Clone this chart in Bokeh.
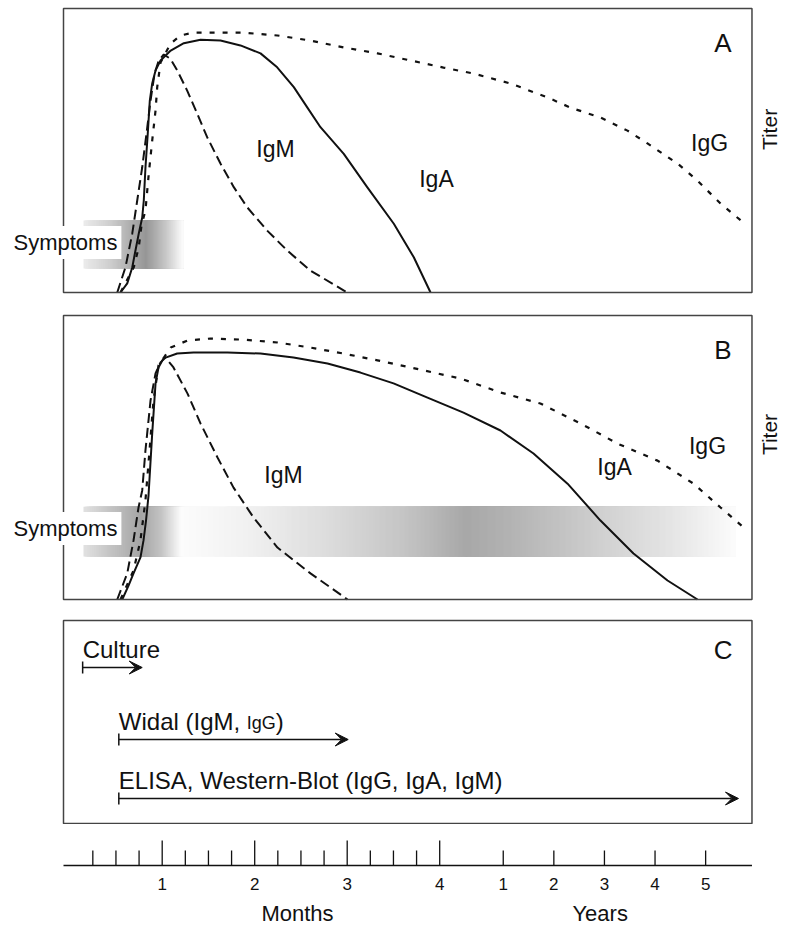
import numpy as np
from bokeh.plotting import figure
from bokeh.models import Range1d, ColumnDataSource, Arrow, VeeHead, TeeHead, BoxAnnotation, Label
from bokeh.layouts import column
from bokeh.core.properties import value
from bokeh.embed import file_html
from bokeh.resources import INLINE

# ---------------------------------------------------------------- data
# Horizontal positions are "axis units": 1 unit = 1 month on the month part of the
# broken time axis (0-4 months); the year part follows to the right.
month_ticks = [1, 2, 3, 4]
month_minor_ticks = [0.25, 0.5, 0.75, 1.25, 1.5, 1.75, 2.25, 2.5, 2.75, 3.25, 3.5, 3.75]
month_labels = ["1", "2", "3", "4"]
year_ticks = [1, 2, 3, 4, 5]
year_labels = ["1", "2", "3", "4", "5"]
axis_titles = ["Months", "Years"]

# Panel A - titer (relative, 0..1)
a_igm_x = [0.514, 0.603, 0.676, 0.730, 0.784, 0.830, 0.874, 0.917, 0.963, 1.017, 1.089, 1.162,
           1.270, 1.378, 1.486, 1.630, 1.774, 1.919, 2.135, 2.351, 2.603, 3.000]
a_igm_y = [0.000, 0.089, 0.207, 0.324, 0.441, 0.559, 0.676, 0.770, 0.817, 0.838, 0.823, 0.782,
           0.711, 0.630, 0.547, 0.454, 0.371, 0.300, 0.218, 0.148, 0.077, 0.000]
a_iga_x = [0.549, 0.622, 0.676, 0.711, 0.747, 0.784, 0.801, 0.819, 0.844, 0.866, 0.892, 0.928,
           0.982, 1.092, 1.234, 1.414, 1.630, 1.846, 2.063, 2.243, 2.423, 2.568, 2.711, 2.963,
           3.216, 3.504, 3.720, 3.901]
a_iga_y = [0.000, 0.032, 0.088, 0.148, 0.208, 0.264, 0.324, 0.440, 0.560, 0.676, 0.736, 0.782,
           0.817, 0.852, 0.878, 0.890, 0.887, 0.870, 0.842, 0.793, 0.723, 0.652, 0.582, 0.488,
           0.371, 0.242, 0.124, 0.000]
a_igg_x = [0.549, 0.693, 0.747, 0.776, 0.819, 0.855, 0.892, 0.928, 0.946, 0.982, 1.092, 1.198,
           1.338, 1.630, 1.879, 2.246, 2.603, 2.960, 3.328, 3.684, 4.041, 4.365, 4.765, 5.165,
           5.414, 5.738, 6.030, 6.246, 6.571, 6.787, 7.036, 7.284]
a_igg_y = [0.000, 0.089, 0.160, 0.236, 0.289, 0.419, 0.535, 0.641, 0.723, 0.810, 0.877, 0.905,
           0.915, 0.915, 0.915, 0.905, 0.887, 0.863, 0.842, 0.817, 0.792, 0.771, 0.736, 0.687,
           0.651, 0.616, 0.570, 0.525, 0.454, 0.394, 0.313, 0.246]

# Panel B - titer (relative, 0..1)
b_igm_x = [0.514, 0.622, 0.690, 0.744, 0.784, 0.819, 0.874, 0.928, 0.982, 1.036, 1.122, 1.274,
           1.414, 1.598, 1.771, 1.987, 2.246, 2.603, 3.003]
b_igm_y = [0.000, 0.092, 0.208, 0.324, 0.384, 0.525, 0.701, 0.796, 0.835, 0.852, 0.817, 0.725,
           0.620, 0.500, 0.394, 0.289, 0.183, 0.092, 0.000]
b_iga_x = [0.568, 0.636, 0.690, 0.765, 0.798, 0.825, 0.852, 0.892, 0.928, 0.960, 1.014, 1.162,
           1.338, 1.706, 2.063, 2.419, 2.787, 3.143, 3.501, 3.868, 4.257, 4.657, 5.014, 5.382,
           5.738, 6.095, 6.463, 6.787]
b_iga_y = [0.000, 0.049, 0.092, 0.148, 0.208, 0.278, 0.366, 0.585, 0.761, 0.817, 0.849, 0.866,
           0.870, 0.870, 0.866, 0.852, 0.831, 0.799, 0.761, 0.711, 0.658, 0.595, 0.514, 0.408,
           0.278, 0.162, 0.067, 0.000]
b_igg_x = [0.549, 0.690, 0.765, 0.819, 0.863, 0.906, 0.960, 1.092, 1.273, 1.522, 1.879, 2.246,
           2.603, 2.960, 3.328, 3.684, 4.225, 4.657, 5.089, 5.522, 5.922, 6.355, 6.744, 7.036, 7.284]
b_igg_y = [0.000, 0.102, 0.208, 0.349, 0.525, 0.701, 0.824, 0.887, 0.912, 0.919, 0.915, 0.905,
           0.887, 0.866, 0.842, 0.817, 0.778, 0.729, 0.690, 0.620, 0.549, 0.489, 0.408, 0.324, 0.254]

# curve labels
a_label_text = ["IgM", "IgA", "IgG"]
a_label_x = [2.225, 3.965, 6.917]
a_label_y = [0.507, 0.401, 0.525]
b_label_text = ["IgM", "IgA", "IgG"]
b_label_x = [2.311, 5.890, 6.895]
b_label_y = [0.440, 0.465, 0.539]

# symptom periods (x extent, y band)
sym_a = dict(x0=0.149, x1=1.230, y0=0.0845, y1=0.2535)
sym_b = dict(x0=0.149, x1=7.198, y0=0.151, y1=0.327)

# Panel C - diagnostic tests (start / end in axis units)
test_names = ["Culture", "Widal (IgM,", "ELISA, Western-Blot (IgG, IgA, IgM)"]
test_start = [0.140, 0.531, 0.531]
test_end = [0.784, 3.011, 7.230]

# ---------------------------------------------------------------- style / scales
FONT = "Liberation Sans"
INK = "#111111"
FRAME = "#444444"
PX_PER_UNIT = 92.5
ORIGIN_PX = 69.2            # page x of month 0
FIG_W = 780
X0 = -ORIGIN_PX / PX_PER_UNIT
X1 = X0 + FIG_W / PX_PER_UNIT
BOX_L, BOX_R = -0.067, 7.376  # panel box edges (axis units)
YEAR1_POS = 4.687             # axis position of "1 year"
YEAR_STEP = 0.547             # axis units per year
year_pos = [YEAR1_POS + (y - 1) * YEAR_STEP for y in year_ticks]
LETTER_X = 7.063
TITER_X = 7.57
SYM_X = -0.651

# symptom gradient stops (axis position, gray level)
grad_a = ([0.149, 0.441, 0.819, 1.036, 1.230], [235, 205, 150, 200, 255])
grad_b = ([0.149, 0.441, 0.765, 0.982, 1.198, 1.954, 2.711, 3.576, 4.279, 4.873, 5.738, 6.603, 7.198],
          [225, 195, 165, 195, 252, 240, 222, 198, 168, 182, 208, 232, 252])

xr = Range1d(X0, X1)


def canvas(height, yr):
    p = figure(frame_width=FIG_W, frame_height=height, x_range=xr, y_range=yr,
               min_border=0, toolbar_location=None, output_backend="svg",
               x_axis_location=None, y_axis_location=None)
    p.grid.visible = False
    p.outline_line_color = None
    p.background_fill_color = "white"
    p.border_fill_color = "white"
    return p


def box(p, top):
    p.add_layout(BoxAnnotation(left=BOX_L, right=BOX_R, bottom=0, top=top, fill_color=None,
                               fill_alpha=0, line_color=FRAME, line_alpha=1, line_width=1.5,
                               level="overlay"))


def gradient(p, band, stops):
    n = int(round((band["x1"] - band["x0"]) * PX_PER_UNIT))
    lefts = band["x0"] + np.arange(n) / PX_PER_UNIT
    g = np.interp(lefts, stops[0], stops[1]).round().astype(int)
    colors = ["#%02x%02x%02x" % (v, v, v) for v in g]
    p.quad(left=lefts, right=[band["x1"]] * n, bottom=band["y0"], top=band["y1"],
           fill_color=colors, line_color=None)


def titer_panel(height, yr, igm, iga, igg, band, stops, lbl, letter, letter_y, titer_y, sym_y):
    p = canvas(height, yr)
    gradient(p, band, stops)
    p.line(igg[0], igg[1], line_color=INK, line_width=2.2, line_dash="5 8")
    p.line(igm[0], igm[1], line_color=INK, line_width=2, line_dash="10 5")
    p.line(iga[0], iga[1], line_color=INK, line_width=2, line_join="round")
    p.text(x=lbl[0], y=lbl[1], text=lbl[2], text_font=value(FONT), text_font_size="23px",
           text_align="center", text_baseline="middle", text_color=INK)
    p.text(x=[LETTER_X], y=[letter_y], text=[letter], text_font=value(FONT),
           text_font_size="26px", text_align="center", text_baseline="middle", text_color=INK)
    p.text(x=[TITER_X], y=[titer_y], text=["Titer"], angle=np.pi / 2, text_font=value(FONT),
           text_font_size="21px", text_align="center", text_baseline="middle", text_color=INK)
    box(p, 1)
    p.add_layout(Label(x=SYM_X, y=sym_y, text="Symptoms", text_font=FONT,
                       text_font_size="22px", text_align="left", text_baseline="middle",
                       text_color=INK, background_fill_color="white", padding=4,
                       level="overlay"))
    return p


# panel A: canvas page-y 0..303, box 8..292  (284 px per titer unit)
pA = titer_panel(303, Range1d(-11 / 284, 292 / 284),
                 (a_igm_x, a_igm_y), (a_iga_x, a_iga_y), (a_igg_x, a_igg_y),
                 sym_a, grad_a, (a_label_x, a_label_y, a_label_text), "A", 0.877, 0.574, 0.176)
# panel B: canvas page-y 303..609, box 315..599
pB = titer_panel(306, Range1d(-10 / 284, 296 / 284),
                 (b_igm_x, b_igm_y), (b_iga_x, b_iga_y), (b_igg_x, b_igg_y),
                 sym_b, grad_b, (b_label_x, b_label_y, b_label_text), "B", 0.880, 0.581, 0.250)

# ---- panel C: canvas page-y 609..824, box 620..823 (pixel units from box bottom)
C_H = 203
row_y = [156, 84, 25]
pC = canvas(215, Range1d(-1, 214))
src = ColumnDataSource(dict(x0=test_start, x1=test_end, y=row_y))
pC.add_layout(Arrow(source=src, x_start="x0", y_start="y", x_end="x1", y_end="y",
                    line_color=INK, line_width=1.5,
                    start=TeeHead(size=12, line_color=INK, line_width=1.5),
                    end=VeeHead(size=13, line_color=INK, fill_color=INK, line_width=1)))
txt_y = [y + 18.5 for y in row_y]
pC.text(x=test_start, y=txt_y, text=test_names, text_font=value(FONT), text_font_size="24px",
        text_align="left", text_baseline="middle", text_color=INK)
pC.text(x=[test_start[1]], y=[txt_y[1] - 2], text=["IgG"], x_offset=128, text_font=value(FONT),
        text_font_size="18px", text_align="left", text_baseline="middle", text_color=INK)
pC.text(x=[test_start[1]], y=[txt_y[1]], text=[")"], x_offset=157, text_font=value(FONT),
        text_font_size="24px", text_align="left", text_baseline="middle", text_color=INK)
pC.text(x=[LETTER_X], y=[174], text=["C"], text_font=value(FONT), text_font_size="26px",
        text_align="center", text_baseline="middle", text_color=INK)
box(pC, C_H)

# ---- time axis: canvas page-y 824..924, axis line at page-y 865
pX = canvas(100, Range1d(-59, 41))
pX.segment(x0=[BOX_L], x1=[BOX_R], y0=[0], y1=[0], line_color=INK, line_width=1.5)
pX.segment(x0=month_ticks, x1=month_ticks, y0=0, y1=25, line_color=INK, line_width=1.3)
pX.segment(x0=month_minor_ticks, x1=month_minor_ticks, y0=0, y1=15, line_color=INK, line_width=1.3)
pX.segment(x0=year_pos, x1=year_pos, y0=0, y1=15, line_color=INK, line_width=1.3)
pX.text(x=month_ticks + year_pos, y=-18, text=month_labels + year_labels, text_font=value(FONT),
        text_font_size="17px", text_align="center", text_baseline="middle", text_color=INK)
pX.text(x=[2.463, 5.735], y=-47.5, text=axis_titles, text_font=value(FONT), text_font_size="22px",
        text_align="center", text_baseline="middle", text_color=INK)

layout = column(pA, pB, pC, pX, spacing=0)
open("out.html", "w").write(file_html(layout, INLINE))
